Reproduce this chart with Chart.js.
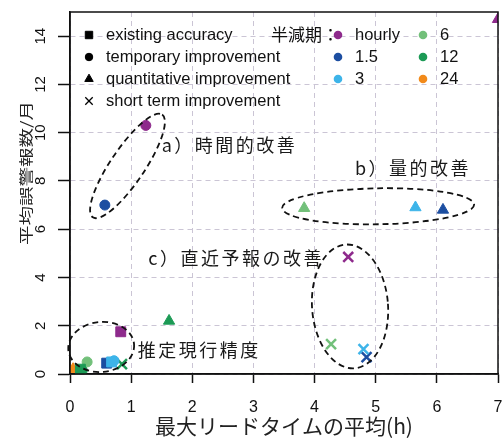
<!DOCTYPE html>
<html>
<head>
<meta charset="utf-8">
<script src="https://cdn.jsdelivr.net/npm/chart.js@4.4.0/dist/chart.umd.min.js"></script>
<style>
  html, body { margin: 0; padding: 0; background: #fff; }
  canvas { display: block; }
</style>
</head>
<body>
<canvas id="ErrorChart" width="502" height="438"></canvas>
<script>
// half-life groups (legend order) and their colours
const halfLives = ["hourly", "1.5", "3", "6", "12", "24"];
const halfLifeColors = ["#8e2a8c", "#1c4ea1", "#3db4e9", "#72c07a", "#1c9a55", "#f28a1a"];

// [max lead time mean (h), false alarms per month, half-life]
const existingAccuracy = [
  [0.83, 1.75, "hourly"],
  [0.6, 0.45, "1.5"],
  [0.68, 0.5, "3"],
  [0.17, 0.2, "12"],
];
const temporaryImprovement = [
  [1.24, 10.3, "hourly"],
  [0.57, 7.0, "1.5"],
  [0.72, 0.55, "3"],
  [0.28, 0.5, "6"],
  [0.2, 0.15, "12"],
];
const quantitativeImprovement = [
  [7.0, 14.7, "hourly"],
  [6.1, 6.8, "1.5"],
  [5.65, 6.9, "3"],
  [3.83, 6.87, "6"],
  [1.62, 2.2, "12"],
  [0.05, 0.2, "24"],
];
const shortTermImprovement = [
  [4.55, 4.85, "hourly"],
  [4.85, 0.7, "1.5"],
  [4.8, 1.03, "3"],
  [4.27, 1.24, "6"],
  [0.85, 0.41, "12"],
];

const xTicks = [0, 1, 2, 3, 4, 5, 6, 7];
const yTicks = [0, 2, 4, 6, 8, 10, 12, 14];
const yTitle = "平均誤警報数/月";

// dashed groupings: centre in data units, semi-axes in px, rotation in degrees
const ellipses = [
  { x: 0.94, y: 8.62, rx: 62, ry: 17, rot: -56 },
  { x: 5.04, y: 6.95, rx: 96, ry: 18, rot: -1 },
  { x: 4.58, y: 2.8, rx: 38, ry: 62, rot: -4 },
  { x: 0.51, y: 1.12, rx: 33, ry: 25, rot: -5 },
];
const notes = [
  { x: 1.5, y: 9.5, text: "a）時間的改善" },
  { x: 4.66, y: 8.55, text: "b）量的改善" },
  { x: 1.28, y: 4.8, text: "c）直近予報の改善" },
  { x: 1.11, y: 1.0, text: "推定現行精度" },
];

const categories = [
  { label: "existing accuracy", rows: existingAccuracy, style: "rect", radius: 7, width: 1 },
  { label: "temporary improvement", rows: temporaryImprovement, style: "circle", radius: 5, width: 1 },
  { label: "quantitative improvement", rows: quantitativeImprovement, style: "triangle", radius: 6.5, width: 1 },
  { label: "short term improvement", rows: shortTermImprovement, style: "crossRot", radius: 7, width: 2.5 },
];

const colorOf = (g) => halfLifeColors[halfLives.indexOf(g)] || "#000";
const pointColor = (c) => colorOf(c.raw ? c.raw.g : "hourly");

const latin = '"Liberation Sans", Arial, sans-serif';
const cjk = '"Noto Sans CJK JP", "Noto Sans", sans-serif';

const decorations = {
  id: "decorations",
  afterDatasetsDraw(chart) {
    const { ctx, scales: { x, y } } = chart;
    ctx.save();
    ctx.strokeStyle = "#111";
    ctx.lineWidth = 1.8;
    ctx.setLineDash([6, 4]);
    ellipses.forEach((e) => {
      ctx.beginPath();
      ctx.ellipse(x.getPixelForValue(e.x), y.getPixelForValue(e.y), e.rx, e.ry, (e.rot * Math.PI) / 180, 0, Math.PI * 2);
      ctx.stroke();
    });
    ctx.setLineDash([]);
    ctx.fillStyle = "#1a1a1a";
    ctx.font = "18px " + cjk;
    ctx.textBaseline = "middle";
    ctx.textAlign = "left";
    if ("letterSpacing" in ctx) ctx.letterSpacing = "2.5px";
    notes.forEach((n) => {
      ctx.fillText(n.text, x.getPixelForValue(n.x), y.getPixelForValue(n.y));
    });
    ctx.restore();
  },
  afterDraw(chart) {
    const { ctx, chartArea: a } = chart;
    ctx.save();
    ctx.strokeStyle = "#111";
    ctx.lineWidth = 1.5;
    ctx.strokeRect(a.left, a.top, a.right - a.left, a.bottom - a.top);

    // y axis title, set a little condensed like the source
    ctx.save();
    ctx.translate(26, 173);
    ctx.rotate(-Math.PI / 2);
    ctx.scale(1, 0.72);
    ctx.font = "19.5px " + cjk;
    ctx.fillStyle = "#222";
    ctx.textAlign = "center";
    ctx.textBaseline = "middle";
    ctx.fillText(yTitle, 0, 0);
    ctx.restore();

    // legend: marker shapes
    ctx.font = "16.5px " + latin;
    ctx.textBaseline = "middle";
    ctx.textAlign = "left";
    categories.forEach((c, i) => {
      const yy = 35 + i * 22;
      ctx.fillStyle = "#000";
      ctx.strokeStyle = "#000";
      ctx.lineWidth = c.style === "crossRot" ? 1.3 : 1;
      Chart.helpers.drawPoint(ctx, { pointStyle: c.style, radius: c.radius * 0.75, borderWidth: ctx.lineWidth, rotation: 0 }, 89, yy);
      ctx.fillStyle = "#111";
      ctx.fillText(c.label, 106, yy);
    });

    // legend: half-life colours
    ctx.font = "17px " + cjk;
    ctx.fillStyle = "#111";
    ctx.fillText("半減期：", 271, 35);
    ctx.font = "16.5px " + latin;
    halfLives.forEach((g, i) => {
      const col = Math.floor(i / 3);
      const yy = 35 + (i % 3) * 22;
      const dx = col === 0 ? 338 : 423;
      ctx.fillStyle = colorOf(g);
      ctx.beginPath();
      ctx.arc(dx, yy, 4.3, 0, Math.PI * 2);
      ctx.fill();
      ctx.fillStyle = "#111";
      ctx.fillText(g, dx + 17, yy);
    });
    ctx.restore();
  },
};

const chart = new Chart(document.getElementById("ErrorChart"), {
  type: "scatter",
  data: {
    datasets: categories.map((c) => ({
      label: c.label,
      data: c.rows.map(([x, y, g]) => ({ x, y, g })),
      pointStyle: c.style,
      pointRadius: c.radius,
      pointBorderWidth: c.width,
      pointBackgroundColor: pointColor,
      pointBorderColor: pointColor,
      clip: 0,
    })),
  },
  options: {
    responsive: false,
    animation: false,
    layout: { autoPadding: false, padding: { left: 0, right: 4, top: 12, bottom: 0 } },
    plugins: {
      legend: { display: false },
      tooltip: { enabled: false },
    },
    scales: {
      x: {
        type: "linear",
        min: 0,
        max: 7,
        afterBuildTicks: (s) => { s.ticks = xTicks.map((v) => ({ value: v })); },
        afterFit: (s) => { s.height = 64; s.paddingLeft = 0; s.paddingRight = 0; },
        ticks: { color: "#111", font: { family: latin, size: 16 }, padding: 15, maxRotation: 0 },
        grid: { color: "#cbc5d5", lineWidth: 1, tickLength: 9, tickColor: "#111", tickWidth: 1.5, tickBorderDash: [] },
        border: { display: true, color: "#111", width: 1.5, dash: [5, 4] },
        title: {
          display: true,
          text: "最大リードタイムの平均(h)",
          color: "#222",
          font: { family: cjk, size: 21 },
          padding: { top: 0, bottom: -1 },
        },
      },
      y: {
        type: "linear",
        min: 0,
        max: 15,
        afterBuildTicks: (s) => { s.ticks = yTicks.map((v) => ({ value: v })); },
        afterFit: (s) => { s.width = 70; s.paddingTop = 0; s.paddingBottom = 0; },
        ticks: { color: "#111", font: { family: latin, size: 15 }, padding: 9, minRotation: 90, maxRotation: 90, crossAlign: "center" },
        grid: { color: "#cbc5d5", lineWidth: 1, tickLength: 12, tickColor: "#111", tickWidth: 1.5, tickBorderDash: [] },
        border: { display: true, color: "#111", width: 1.5, dash: [5, 4] },
      },
    },
  },
  plugins: [decorations],
});
</script>
</body>
</html>
